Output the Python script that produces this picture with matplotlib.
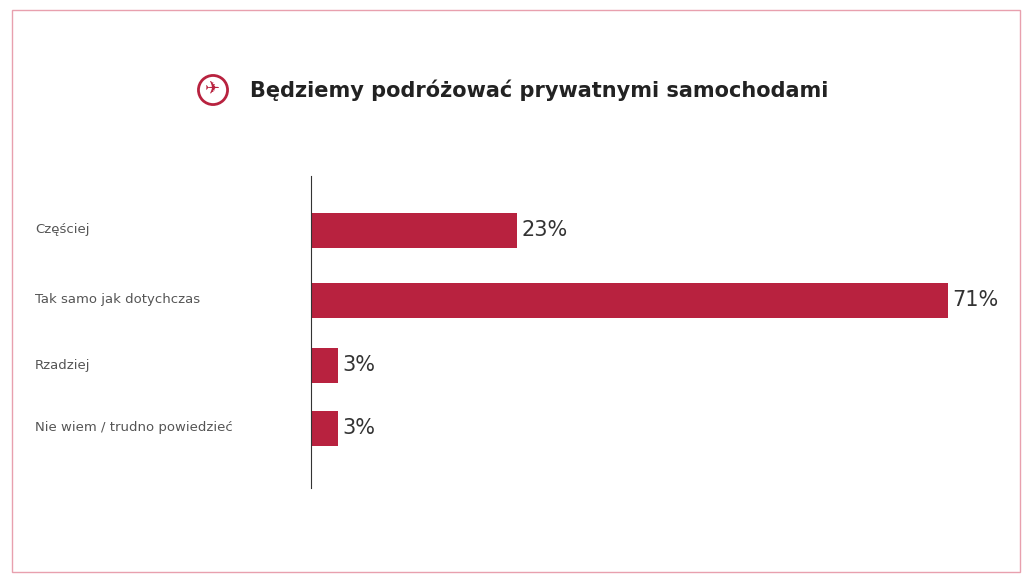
import matplotlib.pyplot as plt
from matplotlib.patches import Rectangle, Circle

categories = ["Częściej", "Tak samo jak dotychczas", "Rzadziej", "Nie wiem / trudno powiedzieć"]
values = [23, 71, 3, 3]
labels = ["23%", "71%", "3%", "3%"]
ypos = [230, 300, 365, 428]  # row centres in pixels from top

W, H = 1032, 582
RED = "#B8223F"

fig = plt.figure(figsize=(W / 100, H / 100), dpi=100)
fig.add_artist(Rectangle((12 / W, 10 / H), 1008 / W, 562 / H, transform=fig.transFigure,
                         fill=False, ec="#E8A0AE", lw=1))

# axes: pixel y from 176 to 488, x from 311
ax = fig.add_axes([311 / W, 1 - 488 / H, (1000 - 311) / W, (488 - 176) / H])
ax.set_ylim(488, 176)
ax.set_xlim(0, 71 * (1000 - 311) / (948 - 311))
ax.barh(ypos, values, height=35, color=RED)
for y, v, t in zip(ypos, values, labels):
    ax.text(v + 0.5, y, t, va="center", ha="left", fontsize=15, color="#333333")
for y, c in zip(ypos, categories):
    fig.text(35 / W, 1 - y / H, c, va="center", ha="left", fontsize=9.5, color="#555555")
for s in ["top", "right", "bottom"]:
    ax.spines[s].set_visible(False)
ax.spines["left"].set_color("#333333")
ax.set_xticks([])
ax.set_yticks([])
ax.patch.set_alpha(0)

# title with icon
fig.text(250 / W, 1 - 90 / H, "Będziemy podróżować prywatnymi samochodami", va="center", ha="left",
         fontsize=15, fontweight="bold", color="#222222")
icon = fig.add_axes([(213 - 16) / W, 1 - (90 + 16) / H, 32 / W, 32 / H])
icon.set_xlim(-1.1, 1.1)
icon.set_ylim(-1.1, 1.1)
icon.set_aspect("equal")
icon.axis("off")
icon.add_patch(Circle((0, 0), 1, fill=False, ec=RED, lw=2))
icon.text(0, 0, "✈", ha="center", va="center", fontsize=13, color=RED)

fig.savefig("out.png", dpi=100)
